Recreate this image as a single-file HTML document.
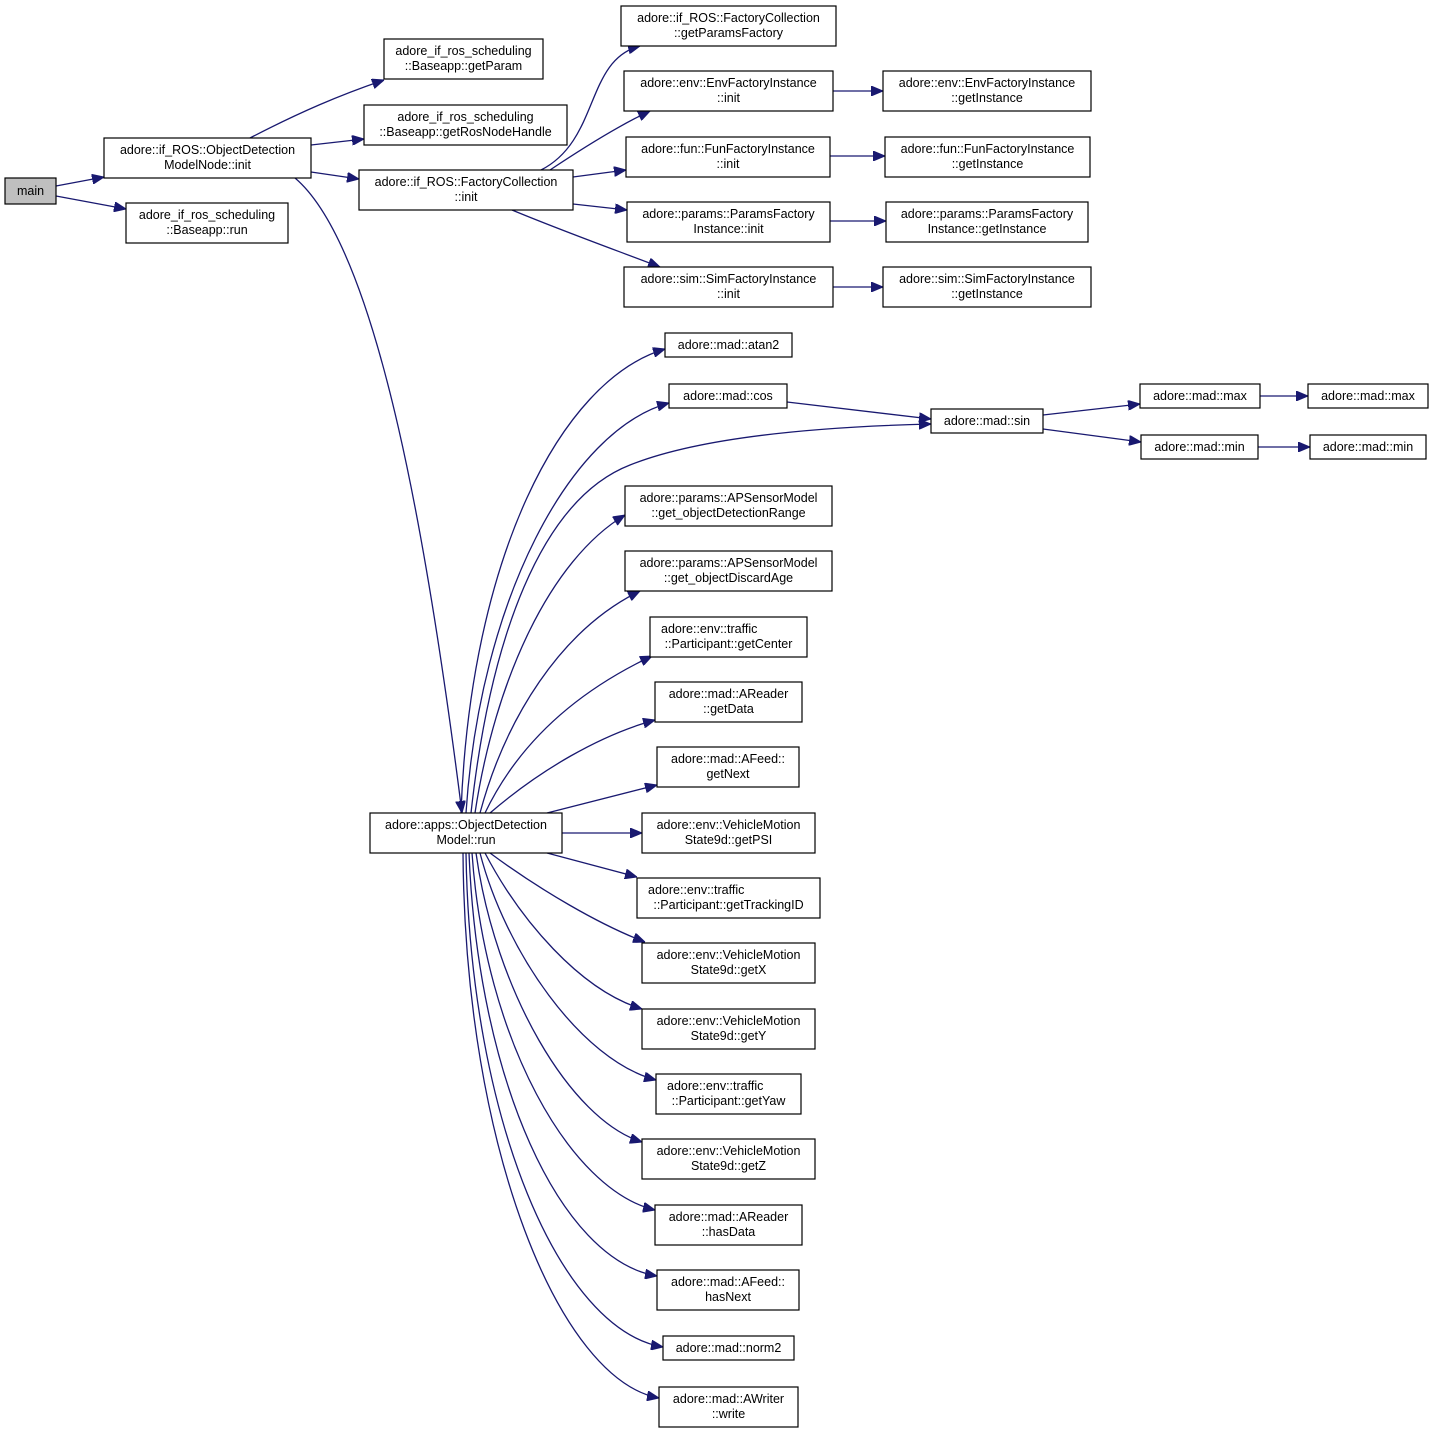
<!DOCTYPE html>
<html><head><meta charset="utf-8"><style>
html,body{margin:0;padding:0;background:#fff;}
svg{display:block;}
text{font-family:"Liberation Sans",Arial,sans-serif;font-size:12.5px;fill:#000;text-anchor:middle;}
rect{fill:#fff;stroke:#000;stroke-width:1.2;}
path{fill:none;stroke:#191970;stroke-width:1.3;}
</style></head><body>
<svg width="1433" height="1433" viewBox="0 0 1433 1433" xmlns="http://www.w3.org/2000/svg">
<defs><marker id="a" viewBox="0 0 12 10" refX="12" refY="5" markerWidth="12" markerHeight="10" markerUnits="userSpaceOnUse" orient="auto"><path d="M0,0 L12,5 L0,10 z" style="fill:#191970;stroke:#191970;stroke-width:1"/></marker></defs>
<g marker-end="url(#a)">
<path d="M56,186 L104,177"/>
<path d="M56,196 L126,209"/>
<path d="M250,138 C300,112 340,95 384,80"/>
<path d="M311,145 L364,139"/>
<path d="M311,172 L359,179"/>
<path d="M295,178 C380,250 430,560 462,813"/>
<path d="M541,170 C600,140 585,60 640,46"/>
<path d="M550,170 C580,150 620,125 650,111"/>
<path d="M573,177 L626,170"/>
<path d="M573,204 L627,210"/>
<path d="M512,210 C560,230 610,248 660,267"/>
<path d="M833,91 L883,91"/>
<path d="M830,156 L885,156"/>
<path d="M830,221 L886,221"/>
<path d="M833,287 L883,287"/>
<path d="M461,813 C470,560 560,380 665,349"/>
<path d="M466,813 C480,600 570,430 669,403"/>
<path d="M471,813 C490,640 540,500 630,465 C710,433 850,426 931,424"/>
<path d="M787,402 L931,419"/>
<path d="M1043,415 L1140,404"/>
<path d="M1043,429 L1141,442"/>
<path d="M1260,396 L1308,396"/>
<path d="M1258,447 L1310,447"/>
<path d="M475,813 C495,680 550,560 625,515"/>
<path d="M480,813 C505,720 560,630 640,591"/>
<path d="M485,813 C520,740 580,690 652,656"/>
<path d="M490,813 C540,770 600,735 655,720"/>
<path d="M547,813 L657,785"/>
<path d="M562,833 L642,833"/>
<path d="M547,853 L637,877"/>
<path d="M490,853 C540,890 600,925 645,942"/>
<path d="M485,853 C520,920 580,990 642,1009"/>
<path d="M480,853 C505,950 580,1060 656,1080"/>
<path d="M476,853 C495,990 570,1120 642,1142"/>
<path d="M472,853 C485,1040 570,1190 655,1210"/>
<path d="M469,853 C478,1080 560,1260 657,1276"/>
<path d="M466,853 C470,1120 560,1330 663,1347"/>
<path d="M463,853 C465,1150 560,1380 659,1398"/>
</g>
<rect x="5" y="178" width="51" height="26" style="fill:#bfbfbf"/><text x="30.5" y="195">main</text>
<rect x="104" y="138" width="207" height="40"/><text x="207.5" y="154">adore::if_ROS::ObjectDetection</text><text x="207.5" y="169">ModelNode::init</text>
<rect x="126" y="203" width="162" height="40"/><text x="207" y="219">adore_if_ros_scheduling</text><text x="207" y="234">::Baseapp::run</text>
<rect x="384" y="39" width="159" height="40"/><text x="463.5" y="55">adore_if_ros_scheduling</text><text x="463.5" y="70">::Baseapp::getParam</text>
<rect x="364" y="105" width="203" height="40"/><text x="465.5" y="121">adore_if_ros_scheduling</text><text x="465.5" y="136">::Baseapp::getRosNodeHandle</text>
<rect x="359" y="170" width="214" height="40"/><text x="466" y="186">adore::if_ROS::FactoryCollection</text><text x="466" y="201">::init</text>
<rect x="621" y="6" width="215" height="40"/><text x="728.5" y="22">adore::if_ROS::FactoryCollection</text><text x="728.5" y="37">::getParamsFactory</text>
<rect x="624" y="71" width="209" height="40"/><text x="728.5" y="87">adore::env::EnvFactoryInstance</text><text x="728.5" y="102">::init</text>
<rect x="883" y="71" width="208" height="40"/><text x="987" y="87">adore::env::EnvFactoryInstance</text><text x="987" y="102">::getInstance</text>
<rect x="626" y="137" width="204" height="40"/><text x="728" y="153">adore::fun::FunFactoryInstance</text><text x="728" y="168">::init</text>
<rect x="885" y="137" width="205" height="40"/><text x="987.5" y="153">adore::fun::FunFactoryInstance</text><text x="987.5" y="168">::getInstance</text>
<rect x="627" y="202" width="203" height="40"/><text x="728.5" y="218">adore::params::ParamsFactory</text><text x="728.5" y="233">Instance::init</text>
<rect x="886" y="202" width="202" height="40"/><text x="987" y="218">adore::params::ParamsFactory</text><text x="987" y="233">Instance::getInstance</text>
<rect x="624" y="267" width="209" height="40"/><text x="728.5" y="283">adore::sim::SimFactoryInstance</text><text x="728.5" y="298">::init</text>
<rect x="883" y="267" width="208" height="40"/><text x="987" y="283">adore::sim::SimFactoryInstance</text><text x="987" y="298">::getInstance</text>
<rect x="665" y="333" width="127" height="24"/><text x="728.5" y="349">adore::mad::atan2</text>
<rect x="669" y="384" width="118" height="24"/><text x="728" y="400">adore::mad::cos</text>
<rect x="931" y="409" width="112" height="24"/><text x="987" y="425">adore::mad::sin</text>
<rect x="1140" y="384" width="120" height="24"/><text x="1200" y="400">adore::mad::max</text>
<rect x="1308" y="384" width="120" height="24"/><text x="1368" y="400">adore::mad::max</text>
<rect x="1141" y="435" width="117" height="24"/><text x="1199.5" y="451">adore::mad::min</text>
<rect x="1310" y="435" width="116" height="24"/><text x="1368" y="451">adore::mad::min</text>
<rect x="625" y="486" width="207" height="40"/><text x="728.5" y="502">adore::params::APSensorModel</text><text x="728.5" y="517">::get_objectDetectionRange</text>
<rect x="625" y="551" width="207" height="40"/><text x="728.5" y="567">adore::params::APSensorModel</text><text x="728.5" y="582">::get_objectDiscardAge</text>
<rect x="650" y="617" width="157" height="40"/><text x="661" y="633" style="text-anchor:start">adore::env::traffic</text><text x="728.5" y="648">::Participant::getCenter</text>
<rect x="655" y="682" width="147" height="40"/><text x="728.5" y="698">adore::mad::AReader</text><text x="728.5" y="713">::getData</text>
<rect x="657" y="747" width="142" height="40"/><text x="728" y="763">adore::mad::AFeed::</text><text x="728" y="778">getNext</text>
<rect x="642" y="813" width="173" height="40"/><text x="728.5" y="829">adore::env::VehicleMotion</text><text x="728.5" y="844">State9d::getPSI</text>
<rect x="637" y="878" width="183" height="40"/><text x="648" y="894" style="text-anchor:start">adore::env::traffic</text><text x="728.5" y="909">::Participant::getTrackingID</text>
<rect x="642" y="943" width="173" height="40"/><text x="728.5" y="959">adore::env::VehicleMotion</text><text x="728.5" y="974">State9d::getX</text>
<rect x="642" y="1009" width="173" height="40"/><text x="728.5" y="1025">adore::env::VehicleMotion</text><text x="728.5" y="1040">State9d::getY</text>
<rect x="656" y="1074" width="145" height="40"/><text x="667" y="1090" style="text-anchor:start">adore::env::traffic</text><text x="728.5" y="1105">::Participant::getYaw</text>
<rect x="642" y="1139" width="173" height="40"/><text x="728.5" y="1155">adore::env::VehicleMotion</text><text x="728.5" y="1170">State9d::getZ</text>
<rect x="655" y="1205" width="147" height="40"/><text x="728.5" y="1221">adore::mad::AReader</text><text x="728.5" y="1236">::hasData</text>
<rect x="657" y="1270" width="142" height="40"/><text x="728" y="1286">adore::mad::AFeed::</text><text x="728" y="1301">hasNext</text>
<rect x="663" y="1336" width="131" height="24"/><text x="728.5" y="1352">adore::mad::norm2</text>
<rect x="659" y="1387" width="139" height="40"/><text x="728.5" y="1403">adore::mad::AWriter</text><text x="728.5" y="1418">::write</text>
<rect x="370" y="813" width="192" height="40"/><text x="466" y="829">adore::apps::ObjectDetection</text><text x="466" y="844">Model::run</text>
</svg>
</body></html>
